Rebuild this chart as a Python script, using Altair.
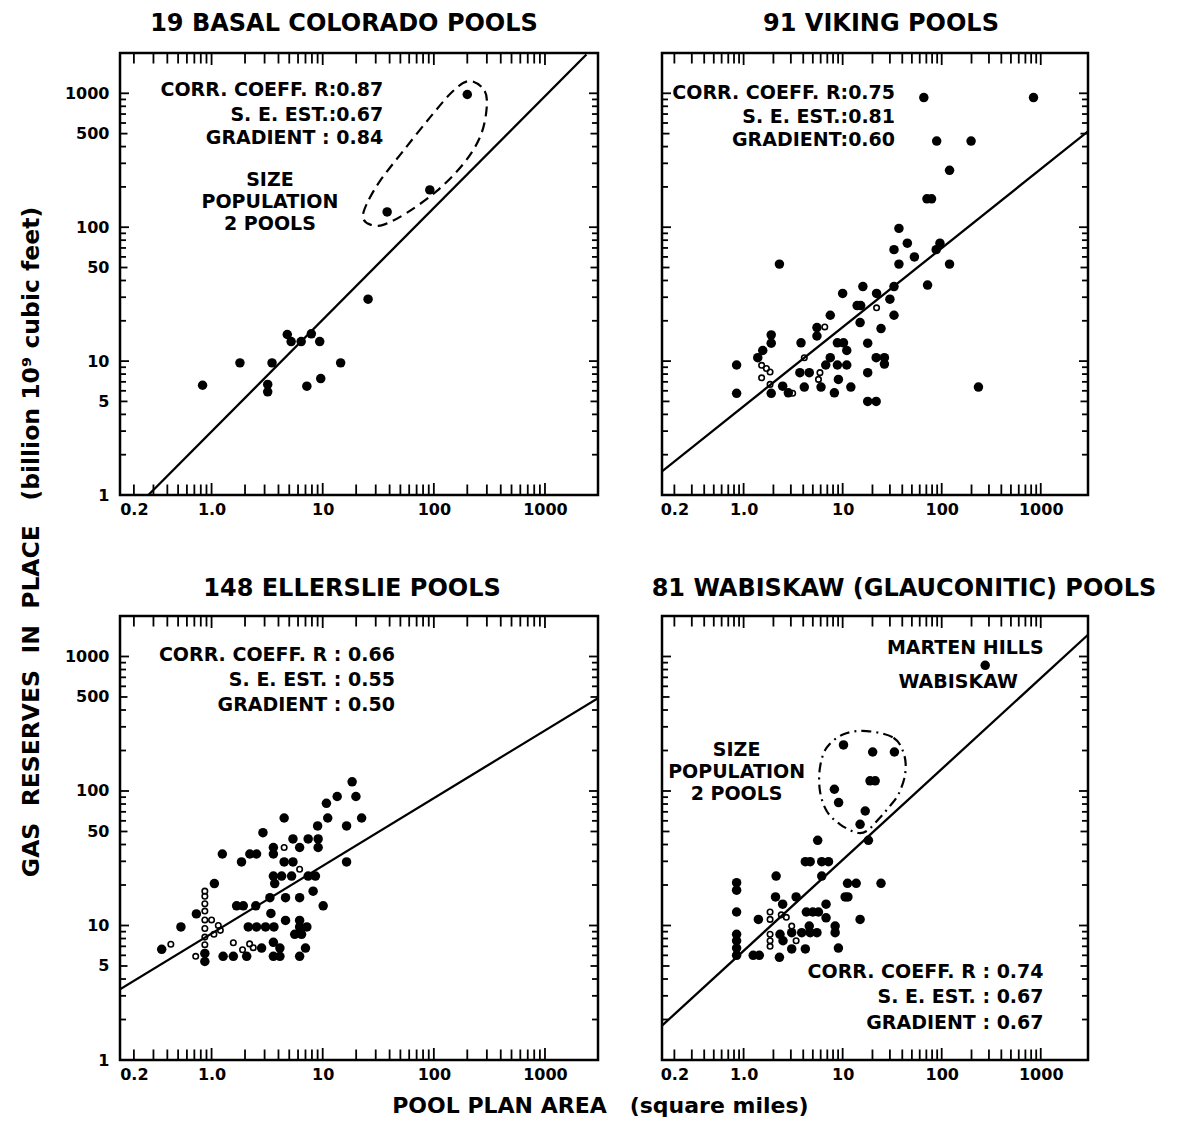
import json
import altair as alt
import pandas as pd

FONT = "DejaVu Sans"
NB = "\u00a0"
X_DOMAIN = [0.15, 3000]
Y_DOMAIN = [1, 2000]
TOP_H = 442
BOT_H = 444
LEFT_W = 478
RIGHT_W = 426

# axis labels
x_label_values = [0.2, 1, 10, 100, 1000]
x_label_texts = ["0.2", "1.0", "10", "100", "1000"]
y_label_values = [1, 5, 10, 50, 100, 500, 1000]
y_label_texts = ["1", "5", "10", "50", "100", "500", "1000"]

# tick marks
x_major_ticks = [1, 10, 100, 1000]
x_minor_ticks = [0.2, 0.3, 0.4, 0.5, 0.6, 0.7, 0.8, 0.9, 2, 3, 4, 5, 6, 7, 8, 9,
                 20, 30, 40, 50, 60, 70, 80, 90, 200, 300, 400, 500, 600, 700, 800, 900]
y_major_ticks = [1, 10, 100, 1000]
y_mid_ticks = [5, 50, 500]
y_minor_ticks = [2, 3, 4, 6, 7, 8, 9, 20, 30, 40, 60, 70, 80, 90, 200, 300, 400, 600, 700, 800, 900]

# ---------------- Panel 1: 19 Basal Colorado pools ----------------
p1_x = [200, 92, 38, 25.6, 4.8, 5.2, 6.4, 7.9, 9.4, 1.8, 3.5, 14.5, 0.83, 3.2, 3.2, 7.2, 9.6]
p1_y = [980, 190, 130, 29, 15.8, 14, 14, 16, 14, 9.7, 9.7, 9.7, 6.6, 6.7, 5.9, 6.5, 7.4]
p1_open_x = []
p1_open_y = []
p1_fit_x = [0.27, 2360]
p1_fit_y = [1.0, 1950]
p1_loop_x = [210, 287, 297, 259, 183, 106, 57, 35, 26.5, 23.1, 24.8, 32.7, 53, 92, 149]
p1_loop_y = [1236, 1040, 738, 466, 295, 186, 128, 104, 105, 118, 148, 221, 371, 658, 1040]

# ---------------- Panel 2: 91 Viking pools ----------------
p2_x = [66, 845, 89, 198, 120, 71, 79, 37, 45, 33, 96, 88, 53, 37, 120, 2.3, 72, 33, 16, 22,
        10, 30, 14, 15.2, 7.5, 33, 15, 5.5, 24.4, 5.5, 1.9, 1.9, 3.8, 8.85, 10.2, 17.9, 1.56, 11,
        1.39, 7.5, 21.8, 26.4, 26.4, 0.85, 8.85, 11, 6.75, 3.7, 4.6, 17.9, 9.06, 2.48, 4.1, 6.05,
        12.1, 235, 0.85, 1.9, 2.83, 8.25, 17.9, 21.8]
p2_y = [930, 930, 440, 440, 266, 163, 163, 98, 76, 68, 76, 68, 60, 53, 53, 53, 37, 36, 36, 32,
        32, 29, 26, 26, 22, 22, 19.4, 17.8, 17.5, 15.4, 15.7, 13.6, 13.7, 13.7, 13.7, 13.6, 12, 12,
        10.6, 10.6, 10.6, 10.6, 9.5, 9.35, 9.35, 9.35, 9.35, 8.2, 8.2, 8.2, 7.3, 6.5, 6.4, 6.4,
        6.4, 6.4, 5.75, 5.75, 5.8, 5.8, 5.0, 5.0]
p2_open_x = [6.6, 22, 4.1, 5.9, 5.7, 3.13, 1.52, 1.52, 1.85, 1.85, 1.7]
p2_open_y = [18, 25, 10.6, 8.2, 7.3, 5.75, 9.3, 7.5, 8.3, 6.7, 8.8]
p2_fit_x = [0.15, 3000]
p2_fit_y = [1.5, 520]

# ---------------- Panel 3: 148 Ellerslie pools ----------------
p3_x = [18.4, 13.5, 19.9, 10.8, 11.1, 22.4, 4.5, 9.0, 16.4, 2.9, 5.4, 6.2, 7.4, 9.1, 9.1, 3.6,
        3.6, 1.25, 2.21, 2.54, 1.86, 4.5, 5.4, 16.4, 3.6, 4.27, 5.25, 7.4, 8.6, 3.7, 8.2, 1.06,
        3.35, 4.63, 6.2, 1.68, 1.93, 2.5, 10.1, 3.42, 4.63, 6.2, 2.14, 2.54, 3.06, 3.64, 6.2, 7.2,
        5.6, 6.45, 0.53, 0.356, 1.27, 2.82, 4.12, 3.6, 3.6, 4.12, 6.2, 7.0, 0.73, 2.07, 1.57,
        0.87, 0.87]
p3_y = [117, 91, 91, 81, 63, 63, 63, 55, 55, 49, 44, 38, 44, 44, 38, 38,
        34, 34, 34, 34, 29.7, 29.7, 29.7, 29.7, 23.3, 23.3, 23.3, 23.3, 23.3, 20.5, 18, 20.5,
        16.1, 16.1, 16.1, 14, 14, 14, 14, 12.3, 10.9, 10.9, 9.75, 9.75, 9.75, 9.75, 9.75, 9.75,
        8.6, 8.6, 9.75, 6.65, 5.9, 6.8, 6.8, 7.5, 5.9, 5.9, 5.9, 6.8, 12.2, 5.9, 5.9,
        6.2, 5.4]
p3_open_x = [4.5, 6.2, 0.43, 0.72, 0.87, 0.87, 0.87, 0.87, 0.87, 0.87, 0.87, 0.87,
             1.0, 1.15, 1.05, 1.2, 1.57, 2.37, 1.9, 2.2]
p3_open_y = [38, 26.2, 7.25, 5.9, 18, 16.5, 14.5, 12.8, 11, 9.5, 8.2, 7.2,
             11, 10, 8.6, 9.2, 7.45, 6.84, 6.6, 7.3]
p3_fit_x = [0.15, 3000]
p3_fit_y = [3.35, 490]

# ---------------- Panel 4: 81 Wabiskaw (Glauconitic) pools ----------------
p4_x = [275, 10.2, 20.1, 33.3, 18.9, 21.3, 8.25, 9.1, 16.9, 15, 18.2, 5.6, 4.2, 4.7, 6.15, 7.2,
        2.13, 6.15, 11.2, 13.7, 24.4, 0.85, 0.85, 10.6, 11.3, 2.1, 3.39, 2.48, 6.8, 0.85, 4.3,
        5.0, 5.7, 6.8, 1.41, 15, 0.85, 0.85, 0.85, 0.85, 1.25, 1.44, 2.3, 3.06, 4.2, 9.06, 4.7,
        5.5, 3.86, 8.4, 8.4, 4.6, 2.33, 2.5, 3.06]
p4_y = [860, 220, 195, 195, 119, 119, 103, 82, 71, 56.5, 43, 43, 29.8, 29.8, 29.8, 29.8,
        23.3, 23.3, 20.6, 20.6, 20.6, 20.8, 18.3, 16.3, 16.3, 16.3, 16.3, 14.4, 14.4, 12.6, 12.6,
        12.6, 12.6, 11.4, 11.1, 11.1, 8.6, 7.7, 6.8, 6.0, 6.0, 6.0, 5.8, 6.7, 6.7, 6.8, 8.85,
        8.85, 8.85, 9.9, 8.85, 9.9, 8.6, 7.7, 8.85]
p4_open_x = [1.85, 1.85, 1.85, 3.06, 3.39, 1.85, 1.85, 2.4, 2.7]
p4_open_y = [8.6, 7.7, 7.0, 9.9, 7.7, 12.6, 11.1, 12, 11.5]
p4_fit_x = [0.15, 3000]
p4_fit_y = [1.8, 1450]
p4_loop_x = [17.5, 32.6, 41.7, 42.7, 36.5, 29, 23, 17.5, 13.9, 9.4, 6.9, 5.9, 5.9, 6.9, 10.2]
p4_loop_y = [279, 249, 187, 133, 94, 75, 61.6, 50.4, 49, 56.5, 71, 100, 149, 210, 264]


def label_expr(values, texts):
    return f"{json.dumps(texts)}[indexof({json.dumps(values)}, datum.value)]"


xtick_df = pd.DataFrame({"v": x_major_ticks + x_minor_ticks,
                         "kind": ["xmajor"] * len(x_major_ticks) + ["xminor"] * len(x_minor_ticks)})
ytick_df = pd.DataFrame({"v": y_major_ticks + y_mid_ticks + y_minor_ticks,
                         "kind": ["ymajor"] * len(y_major_ticks) + ["ymid"] * len(y_mid_ticks)
                         + ["yminor"] * len(y_minor_ticks)})
tick_scale = alt.Scale(domain=["xmajor", "xminor", "ymajor", "ymid", "yminor"],
                       range=[24, 12, 22, 18, 12])


def panel(title, w, h, show_y, px, py, ox, oy, fx, fy, notes, loop=None, dash=None,
          title_dx=0, title_offset=-2):
    xs = alt.Scale(type="log", domain=X_DOMAIN, nice=False)
    ys = alt.Scale(type="log", domain=Y_DOMAIN, nice=False)
    xa = alt.Axis(values=x_label_values, labelExpr=label_expr(x_label_values, x_label_texts),
                  ticks=False, domain=False, grid=False, title=None, labelPadding=6,
                  labelFontSize=16, labelFontWeight="bold", labelFont=FONT, labelColor="black",
                  labelOverlap=False, labelFlush=False)
    if show_y:
        ya = alt.Axis(values=y_label_values, labelExpr=label_expr(y_label_values, y_label_texts),
                      ticks=False, domain=False, grid=False, title=None, labelPadding=11,
                      labelFontSize=16, labelFontWeight="bold", labelFont=FONT,
                      labelColor="black", labelOverlap=False, labelFlush=False)
    else:
        ya = None

    def X(f):
        return alt.X(f, type="quantitative", scale=xs, axis=xa)

    def Y(f):
        return alt.Y(f, type="quantitative", scale=ys, axis=ya)

    layers = []
    layers.append(alt.Chart(pd.DataFrame({"x": fx, "y": fy})).mark_line(
        color="black", strokeWidth=2.3, clip=True).encode(x=X("x"), y=Y("y")))
    if loop is not None:
        lx, ly = loop
        layers.append(alt.Chart(pd.DataFrame({"x": lx, "y": ly, "i": list(range(len(lx)))})).mark_line(
            color="black", strokeWidth=2.2, strokeDash=dash, interpolate="cardinal-closed",
            clip=True).encode(x=X("x"), y=Y("y"), order=alt.Order("i:Q")))
    if ox:
        layers.append(alt.Chart(pd.DataFrame({"x": ox, "y": oy})).mark_point(
            color="black", filled=False, strokeWidth=1.6, size=30, opacity=1).encode(
            x=X("x"), y=Y("y")))
    layers.append(alt.Chart(pd.DataFrame({"x": px, "y": py})).mark_circle(
        color="black", size=90, opacity=1).encode(x=X("x"), y=Y("y")))
    for align in ["left", "center", "right"]:
        rows = [n for n in notes if n[3] == align]
        if not rows:
            continue
        df = pd.DataFrame({"x": [r[0] for r in rows], "y": [r[1] for r in rows],
                           "t": [r[2] for r in rows]})
        layers.append(alt.Chart(df).mark_text(
            align=align, baseline="alphabetic", font=FONT, fontSize=19, fontWeight="bold",
            color="black").encode(x=X("x"), y=Y("y"), text="t:N"))
    size_enc = alt.Size("kind:O", scale=tick_scale, legend=None)
    layers.append(alt.Chart(xtick_df).mark_tick(orient="vertical", clip=True, thickness=1.8,
                                                color="black", opacity=1).encode(
        x=X("v"), y=alt.value(0), size=size_enc))
    layers.append(alt.Chart(xtick_df).mark_tick(orient="vertical", clip=True, thickness=1.8,
                                                color="black", opacity=1).encode(
        x=X("v"), y=alt.value(h), size=size_enc))
    layers.append(alt.Chart(ytick_df).mark_tick(orient="horizontal", clip=True, thickness=1.8,
                                                color="black", opacity=1).encode(
        y=Y("v"), x=alt.value(0), size=size_enc))
    layers.append(alt.Chart(ytick_df).mark_tick(orient="horizontal", clip=True, thickness=1.8,
                                                color="black", opacity=1).encode(
        y=Y("v"), x=alt.value(w), size=size_enc))
    return alt.layer(*layers).properties(
        width=w, height=h,
        title=alt.TitleParams(text=title, font=FONT, fontSize=24, fontWeight="bold",
                              color="black", baseline="alphabetic", offset=title_offset,
                              dx=title_dx, anchor="middle"))


p1 = panel("19 BASAL COLORADO POOLS", LEFT_W, TOP_H, True, p1_x, p1_y, p1_open_x, p1_open_y,
           p1_fit_x, p1_fit_y,
           [(35, 955, "CORR. COEFF. R:0.87", "right"), (35, 621, "S. E. EST.:0.67", "right"),
            (35, 418, "GRADIENT : 0.84", "right"),
            (3.35, 203, "SIZE", "center"), (3.35, 139, "POPULATION", "center"),
            (3.35, 95, "2 POOLS", "center")],
           loop=(p1_loop_x, p1_loop_y), dash=[10, 6], title_dx=-15, title_offset=-2)
p2 = panel("91 VIKING POOLS", RIGHT_W, TOP_H, False, p2_x, p2_y, p2_open_x, p2_open_y,
           p2_fit_x, p2_fit_y,
           [(33.8, 902, "CORR. COEFF. R:0.75", "right"), (33.8, 604, "S. E. EST.:0.81", "right"),
            (33.8, 404, "GRADIENT:0.60", "right")], title_dx=6, title_offset=-2)
p3 = panel("148 ELLERSLIE POOLS", LEFT_W, BOT_H, True, p3_x, p3_y, p3_open_x, p3_open_y,
           p3_fit_x, p3_fit_y,
           [(44.6, 926, "CORR. COEFF. R : 0.66", "right"), (44.6, 604, "S. E. EST. : 0.55", "right"),
            (44.6, 393, "GRADIENT : 0.50", "right")], title_dx=-7, title_offset=-4)
p4 = panel("81 WABISKAW (GLAUCONITIC) POOLS", RIGHT_W, BOT_H, False, p4_x, p4_y, p4_open_x,
           p4_open_y, p4_fit_x, p4_fit_y,
           [(1067, 4.09, "CORR. COEFF. R : 0.74", "right"), (1067, 2.67, "S. E. EST. : 0.67", "right"),
            (1067, 1.71, "GRADIENT : 0.67", "right"),
            (173, 1038, "MARTEN HILLS", "center"), (147, 580, "WABISKAW", "center"),
            (0.85, 182, "SIZE", "center"), (0.85, 125, "POPULATION", "center"),
            (0.85, 85.7, "2 POOLS", "center")],
           loop=(p4_loop_x, p4_loop_y), dash=[10, 5, 2, 5], title_dx=29, title_offset=-4)

x_title = "POOL PLAN AREA" + NB * 3 + "(square miles)"
y_title = ("GAS" + NB * 2 + "RESERVES" + NB * 2 + "IN" + NB * 2 + "PLACE" + NB * 3
           + "(billion 10⁹ cubic feet)")

grid = alt.concat(
    p1, p2, p3, p4, columns=2, spacing={"row": 121, "column": 64}, bounds="flush",
    title=alt.TitleParams(text=x_title, orient="bottom",
                          font=FONT, fontSize=22, fontWeight="bold", color="black",
                          baseline="alphabetic", offset=30, anchor="middle", dx=-10))

chart = alt.vconcat(
    grid,
    title=alt.TitleParams(text=y_title,
                          orient="left", font=FONT, fontSize=23.5, fontWeight="bold",
                          color="black", offset=20, anchor="middle", dx=22),
).configure(font=FONT, padding={"left": 11, "top": 2, "right": 5, "bottom": 5}).configure_view(
    stroke="black", strokeWidth=2.5)

chart.save("out.html", embed_options={"renderer": "svg", "actions": False})
